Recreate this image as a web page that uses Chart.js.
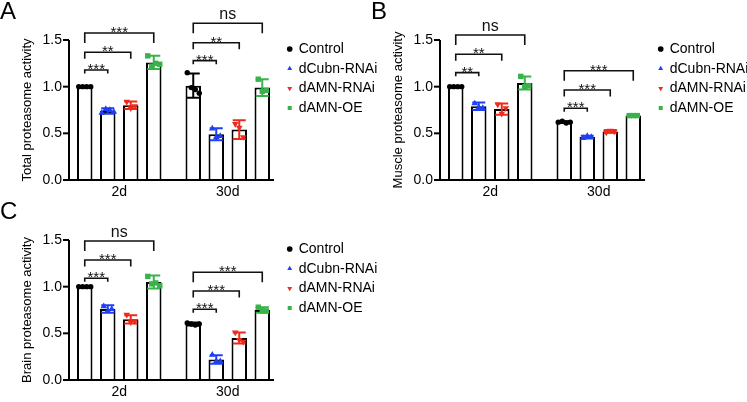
<!DOCTYPE html>
<html><head><meta charset="utf-8">
<script src="https://cdn.jsdelivr.net/npm/chart.js@4.4.1/dist/chart.umd.min.js"></script>
<style>
html,body{margin:0;padding:0;background:#fff;width:747px;height:402px;overflow:hidden;position:relative}
canvas{position:absolute}
#cA{left:0;top:0}
#cB{left:371px;top:0}
#cC{left:0;top:200px}
</style></head><body>
<canvas id="cA" width="390" height="200"></canvas>
<canvas id="cB" width="390" height="200"></canvas>
<canvas id="cC" width="390" height="202"></canvas>
<script>
// ---------- data ----------
const groups = ['2d', '30d'];
const series = ['Control', 'dCubn-RNAi', 'dAMN-RNAi', 'dAMN-OE'];
const yTicks = [0, 0.5, 1.0, 1.5];

// Panel A: Total proteasome activity
const totalMean2d = [1.00, 0.74, 0.80, 1.26];
const totalSd2d = [0.00, 0.03, 0.04, 0.07];
const totalPts2d = [[1.00, 1.00, 1.00, 1.00], [0.72, 0.76, 0.75, 0.73], [0.84, 0.77, 0.79], [1.33, 1.22, 1.25, 1.24]];
const totalMean30d = [1.01, 0.49, 0.54, 0.99];
const totalSd30d = [0.13, 0.065, 0.10, 0.09];
const totalPts30d = [[1.15, 0.99, 0.97, 0.93], [0.55, 0.46, 0.47], [0.60, 0.56, 0.46], [1.08, 0.95, 0.96]];
const totalSig = [[0, 1, 1.179, '***'], [0, 2, 1.369, '**'], [0, 3, 1.575, '***'],
                  [1, 1, 1.279, '***'], [1, 2, 1.471, '**'], [1, 3, 1.680, 'ns']];

// Panel B: Muscle proteasome activity
const muscleMean2d = [1.00, 0.79, 0.76, 1.04];
const muscleSd2d = [0.00, 0.04, 0.06, 0.07];
const musclePts2d = [[1.00, 1.00, 1.00, 1.00], [0.82, 0.78, 0.77], [0.81, 0.71, 0.77], [1.11, 1.00, 1.01]];
const muscleMean30d = [0.62, 0.46, 0.52, 0.69];
const muscleSd30d = [0.01, 0.015, 0.015, 0.005];
const musclePts30d = [[0.62, 0.63, 0.61, 0.62], [0.45, 0.47, 0.46], [0.51, 0.53, 0.52], [0.69, 0.69, 0.69]];
const muscleSig = [[0, 1, 1.150, '**'], [0, 2, 1.347, '**'], [0, 3, 1.554, 'ns'],
                   [1, 1, 0.768, '***'], [1, 2, 0.964, '***'], [1, 3, 1.171, '***']];

// Panel C: Brain proteasome activity
const brainMean2d = [1.00, 0.76, 0.65, 1.05];
const brainSd2d = [0.00, 0.04, 0.045, 0.07];
const brainPts2d = [[1.00, 1.00, 1.00, 1.00], [0.79, 0.74, 0.76], [0.70, 0.62, 0.63], [1.11, 1.03, 1.04, 1.01]];
const brainMean30d = [0.60, 0.22, 0.45, 0.75];
const brainSd30d = [0.015, 0.045, 0.06, 0.03];
const brainPts30d = [[0.61, 0.60, 0.59, 0.60], [0.27, 0.20, 0.20], [0.51, 0.43, 0.41], [0.78, 0.74, 0.74]];
const brainSig = [[0, 1, 1.090, '***'], [0, 2, 1.286, '***'], [0, 3, 1.490, 'ns'],
                  [1, 1, 0.758, '***'], [1, 2, 0.954, '***'], [1, 3, 1.154, '***']];

// ---------- styles ----------
const FONT = "'Liberation Sans', Arial, Helvetica, sans-serif";
const seriesColors = ['#000000', '#1f3ff5', '#ee2a1c', '#37b34a'];
const legendShapes = ['circle', 'triangle', 'triangle', 'rect'];
const legendRot = [0, 0, 180, 0];

Chart.defaults.font.family = FONT;
Chart.defaults.color = '#000';

function drawMarker(ctx, i, x, y) {
  ctx.beginPath();
  if (i === 0) {
    ctx.arc(x, y, 2.7, 0, Math.PI * 2);
  } else if (i === 1) {
    const r = 3.8;
    ctx.moveTo(x, y - r); ctx.lineTo(x + r * 0.866, y + r / 2); ctx.lineTo(x - r * 0.866, y + r / 2); ctx.closePath();
  } else if (i === 2) {
    const r = 3.8;
    ctx.moveTo(x, y + r); ctx.lineTo(x + r * 0.866, y - r / 2); ctx.lineTo(x - r * 0.866, y - r / 2); ctx.closePath();
  } else {
    ctx.rect(x - 2.7, y - 2.7, 5.4, 5.4);
  }
  ctx.fill();
}

function overlayPlugin(sd2d, sd30d, pts2d, pts30d, sig) {
  return {
    id: 'overlay',
    afterDatasetsDraw(chart) {
      const ctx = chart.ctx, area = chart.chartArea, ys = chart.scales.y;
      const yp = v => ys.getPixelForValue(v);
      const sds = [sd2d, sd30d], pts = [pts2d, pts30d];
      ctx.save();
      // axes
      const axisX = area.left + 4;
      const lastBar = chart.getDatasetMeta(series.length - 1).data[groups.length - 1];
      const xEnd = lastBar.x + lastBar.width / 2 + 4;
      ctx.strokeStyle = '#000'; ctx.lineWidth = 2; ctx.lineCap = 'butt'; ctx.lineJoin = 'miter';
      ctx.beginPath();
      ctx.moveTo(axisX, yp(yTicks[yTicks.length - 1]));
      ctx.lineTo(axisX, yp(0));
      ctx.lineTo(xEnd, yp(0));
      ctx.stroke();
      yTicks.forEach(v => {
        ctx.beginPath(); ctx.moveTo(axisX - 6, yp(v)); ctx.lineTo(axisX, yp(v)); ctx.stroke();
      });
      // error bars and points
      for (let g = 0; g < groups.length; g++) {
        for (let i = 0; i < series.length; i++) {
          const bar = chart.getDatasetMeta(i).data[g];
          const m = chart.data.datasets[i].data[g];
          const s = sds[g][i];
          ctx.strokeStyle = seriesColors[i]; ctx.fillStyle = seriesColors[i]; ctx.lineWidth = 2;
          if (s > 0) {
            const yt = yp(m + s), yb = yp(m - s), hw = 6.5;
            ctx.beginPath();
            ctx.moveTo(bar.x, yt); ctx.lineTo(bar.x, yb);
            ctx.moveTo(bar.x - hw, yt); ctx.lineTo(bar.x + hw, yt);
            ctx.moveTo(bar.x - hw, yb); ctx.lineTo(bar.x + hw, yb);
            ctx.stroke();
          }
          const p = pts[g][i];
          p.forEach((v, k) => drawMarker(ctx, i, bar.x + (k - (p.length - 1) / 2) * 4, yp(v)));
        }
      }
      // significance brackets
      ctx.strokeStyle = '#111'; ctx.fillStyle = '#111'; ctx.lineWidth = 1.6;
      ctx.textAlign = 'center'; ctx.textBaseline = 'alphabetic';
      groups.forEach((_, g) => {
        const list = sig.filter(s => s[0] === g).sort((a, b) => a[2] - b[2]);
        list.forEach(([gg, t, lvl, lab], rank) => {
          const x1 = chart.getDatasetMeta(0).data[g].x;
          const x2 = chart.getDatasetMeta(t).data[g].x;
          const y = yp(lvl);
          const drop = [3.5, 6.5, 10][rank];
          ctx.beginPath();
          ctx.moveTo(x1, y + drop); ctx.lineTo(x1, y); ctx.lineTo(x2, y); ctx.lineTo(x2, y + drop);
          ctx.stroke();
          if (lab === 'ns') {
            ctx.font = '16px ' + FONT;
            ctx.fillText(lab, (x1 + x2) / 2, y - 4);
          } else {
            ctx.font = '15px ' + FONT;
            ctx.fillText(lab, (x1 + x2) / 2, y + 4);
          }
        });
      });
      ctx.restore();
    }
  };
}

function makePanel(id, letter, yTitle, mean2d, mean30d, sd2d, sd30d, pts2d, pts30d, sig, padRight, xHeight) {
  return new Chart(document.getElementById(id), {
    type: 'bar',
    data: {
      labels: groups,
      datasets: series.map((name, i) => ({
        label: name,
        data: [mean2d[i], mean30d[i]],
        backgroundColor: '#ffffff',
        borderColor: '#000000',
        borderWidth: 2,
        categoryPercentage: 0.848,
        barPercentage: 0.674
      }))
    },
    options: {
      responsive: false,
      animation: false,
      devicePixelRatio: 1,
      layout: { padding: { left: 0, right: padRight, top: 0, bottom: 0 } },
      scales: {
        x: {
          grid: { display: false, drawTicks: false },
          border: { display: false },
          ticks: { font: { size: 14 }, color: '#000', padding: 4 },
          afterFit: s => { s.height = xHeight; }
        },
        y: {
          min: 0, max: 1.5,
          grid: { display: false, drawTicks: false },
          border: { display: false },
          ticks: { stepSize: 0.5, font: { size: 14 }, color: '#000', padding: 3, callback: v => Number(v).toFixed(1) },
          title: { display: true, text: yTitle, font: { size: 13 }, color: '#000', padding: { top: 19.7, bottom: 0 } },
          afterFit: s => { s.width = 65; }
        }
      },
      plugins: {
        tooltip: { enabled: false },
        title: {
          display: true, text: letter, align: 'start', color: '#000',
          font: { size: 24, weight: 'normal', lineHeight: 1 }, padding: { top: 0, bottom: 16 }
        },
        legend: {
          position: 'right', align: 'start', fullSize: true, maxWidth: 300,
          title: { display: true, text: '', font: { size: 1 }, padding: { top: 35.1, bottom: 0 } },
          labels: {
            usePointStyle: true, boxWidth: 4, boxHeight: 4, padding: 5.7,
            font: { size: 14 }, color: '#000',
            generateLabels: () => series.map((name, i) => ({
              text: name, fillStyle: seriesColors[i], strokeStyle: seriesColors[i], lineWidth: 0,
              pointStyle: legendShapes[i], rotation: legendRot[i], hidden: false, datasetIndex: i, fontColor: '#000'
            }))
          }
        }
      }
    },
    plugins: [overlayPlugin(sd2d, sd30d, pts2d, pts30d, sig)]
  });
}

makePanel('cA', 'A', 'Total proteasome activity', totalMean2d, totalMean30d, totalSd2d, totalSd30d, totalPts2d, totalPts30d, totalSig, 2.7, 20);
makePanel('cB', 'B', 'Muscle proteasome activity', muscleMean2d, muscleMean30d, muscleSd2d, muscleSd30d, musclePts2d, musclePts30d, muscleSig, 2.7, 20);
makePanel('cC', 'C', 'Brain proteasome activity', brainMean2d, brainMean30d, brainSd2d, brainSd30d, brainPts2d, brainPts30d, brainSig, 2.7, 22);
</script></body></html>
